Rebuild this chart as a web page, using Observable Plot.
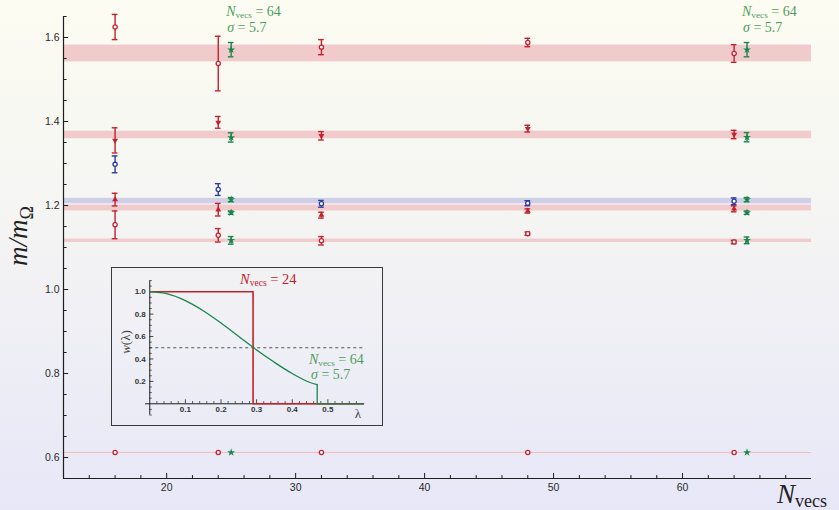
<!DOCTYPE html>
<html>
<head>
<meta charset="utf-8">
<script src="https://cdn.jsdelivr.net/npm/d3@7"></script>
<script src="https://cdn.jsdelivr.net/npm/@observablehq/plot@0.6"></script>
<style>
  html, body { margin: 0; padding: 0; }
  body {
    width: 839px; height: 510px; overflow: hidden;
    background: linear-gradient(to bottom, #fcfcf2 0%, #f5f5f3 40%, #e7e7f8 100%);
  }
  #chart { position: relative; width: 839px; height: 510px; }
  #inset { position: absolute; left: 111px; top: 267px; width: 272px; height: 159px; }
</style>
</head>
<body>
<div id="chart"><div id="inset"></div></div>
<script>
const serif = "'Liberation Serif', 'DejaVu Serif', serif";
const sans = "'Liberation Sans', Arial, sans-serif";
const RED = "#c5212c", BLUE = "#2b3c9c", GREEN = "#17874a", GREEN_TEXT = "#4f9d5c";

// Number of smearing vectors for each run
const nRed = [16, 24, 32, 48, 64];
const nBlue = [16, 24, 32, 48, 64];
const nGreen = [25, 65];

// Step-function smearing (red): m/m_Omega and its uncertainty, one array per level
const redA = [1.625, 1.538, 1.577, 1.588, 1.562];
const redAErr = [0.030, 0.065, 0.018, 0.010, 0.021];
const redB = [1.355, 1.398, 1.366, 1.383, 1.369];
const redBErr = [0.030, 0.014, 0.010, 0.008, 0.010];
const redC = [1.214, 1.190, 1.177, 1.187, 1.192];
const redCErr = [0.015, 0.015, 0.007, 0.005, 0.007];
const redD = [1.154, 1.129, 1.116, 1.133, 1.113];
const redDErr = [0.033, 0.016, 0.010, 0.004, 0.004];
const redE = [0.612, 0.612, 0.612, 0.612, 0.612];

// Blue level
const blue = [1.298, 1.238, 1.204, 1.2055, 1.210];
const blueErr = [0.020, 0.014, 0.008, 0.006, 0.008];

// Gaussian smearing, sigma = 5.7 (green)
const greenA = [1.571, 1.571];
const greenAErr = [0.017, 0.017];
const greenB = [1.362, 1.3626];
const greenBErr = [0.011, 0.011];
const greenC = [1.214, 1.214];
const greenCErr = [0.005, 0.005];
const greenD = [1.183, 1.183];
const greenDErr = [0.004, 0.004];
const greenE = [1.117, 1.117];
const greenEErr = [0.009, 0.008];
const greenF = [0.612, 0.612];

// Reference bands [low, high]
const redBands = [[1.542, 1.582], [1.359, 1.377], [1.187, 1.201], [1.112, 1.120]];
const blueBands = [[1.204, 1.217]];
const groundLine = [0.612];

// Axis ticks
const xMajor = [20, 30, 40, 50, 60];
const xMinor = d3.range(12, 71, 2).filter(v => v % 10 !== 0);
const yMajor = [0.6, 0.8, 1.0, 1.2, 1.4, 1.6];
const yMinor = d3.range(11, 34).filter(i => i % 4 !== 0).map(i => i * 0.05);

// Inset: weight functions w(lambda)
const lamRed = [0, 0.29, 0.29, 0.6];
const wRed = [1, 1, 0, 0];
const lamGreen = [0, 0.05, 0.1, 0.15, 0.2, 0.25, 0.3, 0.35, 0.4, 0.45, 0.47];
const wGreen = [1.0, 0.98, 0.92, 0.83, 0.72, 0.60, 0.48, 0.37, 0.27, 0.19, 0.17];
const lamGreenTail = [0.47, 0.47, 0.6];
const wGreenTail = [0.17, 0, 0];
const insetXMajor = [0.1, 0.2, 0.3, 0.4, 0.5];
const insetYMajor = [0.2, 0.4, 0.6, 0.8, 1.0];
const insetXMinor = d3.range(1, 31).filter(i => i % 5 !== 0).map(i => i * 0.02);
const insetYMinor = d3.range(-2, 23).filter(i => i % 4 !== 0).map(i => i * 0.05);

const rows = (xs, ys, es) => xs.map((x, i) => ({x, y: ys[i], e: es ? es[i] : 0}));

const CAP = 0.22; // half cap width in N_vecs units
function errorBars(data, color) {
  const d = data.filter(r => r.e > 0);
  return [
    Plot.ruleX(d, {x: "x", y1: r => r.y - r.e, y2: r => r.y + r.e, stroke: color, strokeWidth: 1.4}),
    Plot.ruleY(d, {y: r => r.y + r.e, x1: r => r.x - CAP, x2: r => r.x + CAP, stroke: color, strokeWidth: 1.4}),
    Plot.ruleY(d, {y: r => r.y - r.e, x1: r => r.x - CAP, x2: r => r.x + CAP, stroke: color, strokeWidth: 1.4})
  ];
}
const openDot = (data, color) => Plot.dot(data, {x: "x", y: "y", r: 2.1, fill: "white", stroke: color, strokeWidth: 1.3});
const triDot = (data, color, rotate) => Plot.dot(data, {x: "x", y: "y", symbol: "triangle", r: 2.2, fill: color, rotate});
const starDot = (data, color) => Plot.dot(data, {x: "x", y: "y", symbol: "star", r: 2.5, fill: color});

const rA = rows(nRed, redA, redAErr), rB = rows(nRed, redB, redBErr), rC = rows(nRed, redC, redCErr),
      rD = rows(nRed, redD, redDErr), rE = rows(nRed, redE);
const bA = rows(nBlue, blue, blueErr);
const gA = rows(nGreen, greenA, greenAErr), gB = rows(nGreen, greenB, greenBErr), gC = rows(nGreen, greenC, greenCErr),
      gD = rows(nGreen, greenD, greenDErr), gE = rows(nGreen, greenE, greenEErr), gF = rows(nGreen, greenF);

const X0 = 12, X1 = 70, Y0 = 0.55, Y1 = 1.65;

const main = Plot.plot({
  width: 839, height: 510,
  marginTop: 16, marginRight: 28, marginBottom: 32, marginLeft: 63,
  x: {domain: [X0, X1], axis: null},
  y: {domain: [Y0, Y1], axis: null},
  style: {background: "transparent", fontFamily: sans, overflow: "visible"},
  marks: [
    Plot.rect(redBands, {x1: () => X0, x2: () => X1, y1: d => d[0], y2: d => d[1], fill: "#f1cbcb"}),
    Plot.rect(blueBands, {x1: () => X0, x2: () => X1, y1: d => d[0], y2: d => d[1], fill: "#cfcfe7"}),
    Plot.ruleY(groundLine, {x1: X0, x2: X1, stroke: "#f2bcbc", strokeWidth: 1}),
    ...errorBars(rA, RED), ...errorBars(rB, RED), ...errorBars(rC, RED), ...errorBars(rD, RED),
    ...errorBars(bA, BLUE),
    ...errorBars(gA, GREEN), ...errorBars(gB, GREEN), ...errorBars(gC, GREEN), ...errorBars(gD, GREEN), ...errorBars(gE, GREEN),
    openDot(rA, RED), triDot(rB, RED, 180), triDot(rC, RED, 0), openDot(rD, RED), openDot(rE, RED),
    openDot(bA, BLUE),
    starDot(gA, GREEN), starDot(gB, GREEN), starDot(gC, GREEN), starDot(gD, GREEN), starDot(gE, GREEN), starDot(gF, GREEN),
    // axes
    Plot.ruleX([X0], {y1: Y0, y2: Y1, stroke: "#1e1e1e", strokeWidth: 1.2}),
    Plot.ruleY([Y0], {x1: X0, x2: X1, stroke: "#1e1e1e", strokeWidth: 1.2}),
    Plot.ruleY(yMajor, {y: d => d, x1: X0, x2: X0 + 0.40, stroke: "#1e1e1e", strokeWidth: 1}),
    Plot.ruleY(yMinor, {y: d => d, x1: X0, x2: X0 + 0.28, stroke: "#1e1e1e", strokeWidth: 1}),
    Plot.ruleX(xMajor, {x: d => d, y1: Y0, y2: Y0 + 0.012, stroke: "#1e1e1e", strokeWidth: 1}),
    Plot.ruleX(xMinor, {x: d => d, y1: Y0, y2: Y0 + 0.007, stroke: "#1e1e1e", strokeWidth: 1}),
    Plot.text(yMajor, {x: X0, y: d => d, text: d => d.toFixed(1), textAnchor: "end", dx: -4, fontSize: 10.5, fill: "#2a2a2a"}),
    Plot.text(xMajor, {x: d => d, y: Y0, text: d => String(d), dy: 9, lineAnchor: "middle", fontSize: 10.5, fill: "#2a2a2a"})
  ]
});
document.getElementById("chart").prepend(main);

// N_vecs = value label with a roman subscript
function nvecs(sel, x, y, value, color, size) {
  const t = sel.append("text").attr("x", x).attr("y", y).attr("fill", color)
    .attr("text-anchor", "start").attr("font-family", serif).attr("font-size", size);
  t.append("tspan").attr("font-style", "italic").text("N");
  t.append("tspan").attr("font-size", size * 0.66).attr("dy", size * 0.16).text("vecs");
  t.append("tspan").attr("dy", -size * 0.16).text(" = " + value);
  return t;
}
function sigma(sel, x, y, value, color, size) {
  const t = sel.append("text").attr("x", x).attr("y", y).attr("fill", color)
    .attr("text-anchor", "start").attr("font-family", serif).attr("font-size", size);
  t.append("tspan").attr("font-style", "italic").text("σ");
  t.append("tspan").text(" = " + value);
}

const svg = d3.select(main);
const sx = main.scale("x");
const ann = svg.append("g");
for (const n of nGreen) {
  const x = sx.apply(n) - 4.5;
  nvecs(ann, x, 15.5, 64, GREEN_TEXT, 14);
  sigma(ann, x + 1, 31.5, "5.7", GREEN_TEXT, 14);
}

// axis titles
const yl = svg.append("text").attr("transform", "translate(27,236) rotate(-90)")
  .attr("text-anchor", "middle").attr("font-family", serif).attr("font-size", 27).attr("fill", "#222");
yl.append("tspan").attr("font-style", "italic").text("m/m");
yl.append("tspan").attr("font-size", 18).attr("dy", 6).text("Ω");

const xl = svg.append("text").attr("x", 777).attr("y", 503).attr("text-anchor", "start")
  .attr("font-family", serif).attr("font-size", 27).attr("fill", "#222");
xl.append("tspan").attr("font-style", "italic").text("N");
xl.append("tspan").attr("font-size", 18).attr("dy", 4).text("vecs");

// Inset: the weight functions
const LX0 = -0.012, LX1 = 0.6, WY0 = -0.1, WY1 = 1.1;
const inset = Plot.plot({
  width: 272, height: 159,
  marginTop: 13, marginRight: 20, marginBottom: 11.5, marginLeft: 34,
  x: {domain: [LX0, LX1], axis: null},
  y: {domain: [WY0, WY1], axis: null},
  style: {background: "transparent", fontFamily: sans, overflow: "visible"},
  marks: [
    Plot.ruleY([0.5], {x1: 0, x2: 0.6, stroke: "#555", strokeWidth: 1, strokeDasharray: "3,3"}),
    Plot.ruleX([0], {y1: WY0, y2: 1.095, stroke: "#1e1e1e", strokeWidth: 1}),
    Plot.ruleY([0], {x1: LX0, x2: LX1, stroke: "#1e1e1e", strokeWidth: 1}),
    Plot.ruleX(insetXMajor, {x: d => d, y1: 0, y2: 0.036, stroke: "#1e1e1e", strokeWidth: 0.8}),
    Plot.ruleX(insetXMinor, {x: d => d, y1: 0, y2: 0.02, stroke: "#1e1e1e", strokeWidth: 0.7}),
    Plot.ruleY(insetYMajor, {y: d => d, x1: 0, x2: 0.0115, stroke: "#1e1e1e", strokeWidth: 0.8}),
    Plot.ruleY(insetYMinor, {y: d => d, x1: 0, x2: 0.007, stroke: "#1e1e1e", strokeWidth: 0.7}),
    Plot.line(lamRed.map((l, i) => [l, wRed[i]]), {x: d => d[0], y: d => d[1], stroke: RED, strokeWidth: 1.6}),
    Plot.line(lamGreen.map((l, i) => [l, wGreen[i]]), {x: d => d[0], y: d => d[1], stroke: GREEN, strokeWidth: 1.3, curve: "monotone-x"}),
    Plot.line(lamGreenTail.map((l, i) => [l, wGreenTail[i]]), {x: d => d[0], y: d => d[1], stroke: GREEN, strokeWidth: 1.3}),
    Plot.text(insetXMajor, {x: d => d, y: 0, text: d => d.toFixed(1), dy: 6, lineAnchor: "middle", fontSize: 8, fontWeight: "bold", fill: "#333"}),
    Plot.text(insetYMajor, {x: 0, y: d => d, text: d => d.toFixed(1), dx: -4, textAnchor: "end", fontSize: 8, fontWeight: "bold", fill: "#333"})
  ]
});
document.getElementById("inset").append(inset);
d3.select(inset).style("outline", "1px solid #3a3a3a").style("outline-offset", "-1px");

const isvg = d3.select(inset);
nvecs(isvg, 129, 17, 24, RED, 14.5);
nvecs(isvg, 198, 97, 64, GREEN_TEXT, 14);
sigma(isvg, 200, 112, "5.7", GREEN_TEXT, 14);
const wl = isvg.append("text").attr("transform", "translate(19,75) rotate(-90)")
  .attr("text-anchor", "middle").attr("font-family", serif).attr("font-size", 13).attr("fill", "#444");
wl.append("tspan").attr("font-style", "italic").text("w");
wl.append("tspan").text("(λ)");
isvg.append("text").attr("x", 247).attr("y", 151).attr("text-anchor", "middle")
  .attr("font-family", serif).attr("font-size", 13).attr("fill", "#444").text("λ");
</script>
</body>
</html>
